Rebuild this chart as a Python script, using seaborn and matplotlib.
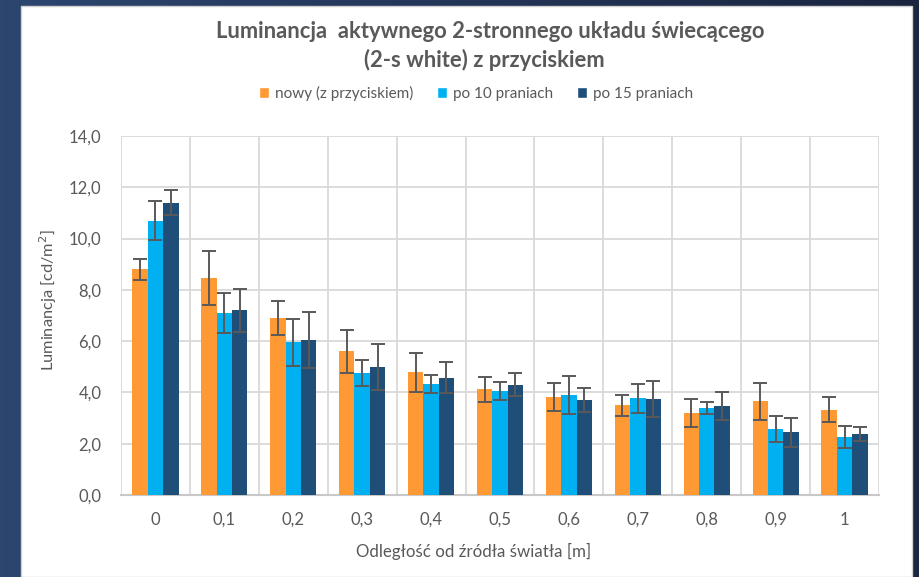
import matplotlib
matplotlib.use("Agg")
import matplotlib.pyplot as plt
import matplotlib.patches as mpatches
import numpy as np
import pandas as pd
import seaborn as sns
from matplotlib.ticker import FuncFormatter, MultipleLocator

# dane
odleglosci = ["0", "0,1", "0,2", "0,3", "0,4", "0,5", "0,6", "0,7", "0,8", "0,9", "1"]
serie = ["nowy (z przyciskiem)", "po 10 praniach", "po 15 praniach"]

nowy = [8.8, 8.45, 6.9, 5.6, 4.78, 4.12, 3.82, 3.5, 3.19, 3.65, 3.33]
po10 = [10.7, 7.1, 5.95, 4.75, 4.32, 4.05, 3.89, 3.77, 3.39, 2.57, 2.27]
po15 = [11.4, 7.2, 6.05, 5.0, 4.58, 4.3, 3.7, 3.73, 3.46, 2.45, 2.37]

err_nowy = [0.4, 1.05, 0.65, 0.85, 0.75, 0.5, 0.55, 0.4, 0.54, 0.72, 0.5]
err_po10 = [0.75, 0.77, 0.93, 0.5, 0.35, 0.36, 0.75, 0.56, 0.25, 0.5, 0.42]
err_po15 = [0.5, 0.85, 1.1, 0.9, 0.6, 0.45, 0.47, 0.7, 0.54, 0.57, 0.28]

kolory = ["#FF9933", "#00B0F0", "#1F4E79"]
szary = "#595959"

df = pd.DataFrame({
    "odl": odleglosci * 3,
    "seria": np.repeat(serie, len(odleglosci)),
    "lum": nowy + po10 + po15,
    "err": err_nowy + err_po10 + err_po15,
})

sns.set_theme(style="white")
plt.rcParams["font.family"] = ["Lato", "DejaVu Sans"]

fig = plt.figure(figsize=(9.19, 5.77), dpi=100)
fig.patch.set_facecolor("#223252")
# ciemne tło z lekkim gradientem (jaśniej z lewej)
grad = np.linspace(0, 1, 256).reshape(1, -1)
bg = fig.add_axes([0, 0, 1, 1], zorder=-2)
bg.imshow(grad, aspect="auto", extent=[0, 1, 0, 1],
          cmap=matplotlib.colors.LinearSegmentedColormap.from_list("tlo", ["#2d4670", "#1a2540"]))
bg.axis("off")
# białe tło panelu wykresu
fig.add_artist(mpatches.Rectangle((21 / 919, 0), (912 - 21) / 919, 1 - 6 / 577,
                                  transform=fig.transFigure, facecolor="white",
                                  edgecolor="#d0d0d0", lw=1, zorder=0))

ax = fig.add_axes([121 / 919, 1 - 495 / 577, (879 - 121) / 919, (495 - 136) / 577])
ax.set_facecolor("white")

sns.barplot(data=df, x="odl", y="lum", hue="seria", palette=kolory,
            order=odleglosci, hue_order=serie, errorbar=None,
            width=0.67, gap=0, saturation=1, linewidth=0, edgecolor="none",
            ax=ax, zorder=3)

# słupki błędów na środku każdego słupka
for patch, (_, row) in zip(ax.patches, df.iterrows()):
    xc = patch.get_x() + patch.get_width() / 2
    ax.errorbar(xc, patch.get_height(), yerr=row["err"], fmt="none",
                ecolor=szary, elinewidth=1.4, capsize=5, capthick=1.4, zorder=4)

ax.set_ylim(0, 14)
ax.set_xlim(-0.5, len(odleglosci) - 0.5)
ax.yaxis.set_major_locator(MultipleLocator(2))
ax.yaxis.set_major_formatter(FuncFormatter(lambda v, _: f"{v:.1f}".replace(".", ",")))
ax.set_xticks(np.arange(-0.5, len(odleglosci)), minor=True)
ax.grid(axis="y", which="major", color="#d9d9d9", lw=1.3, zorder=0)
ax.grid(axis="x", which="minor", color="#d9d9d9", lw=1.3, zorder=0)
ax.tick_params(axis="both", which="both", length=0, labelsize=12, colors=szary, pad=12)
ax.tick_params(axis="y", pad=14)
for s in ["top", "right", "left"]:
    ax.spines[s].set_visible(False)
ax.spines["bottom"].set_color("#c8c8c8")
ax.spines["bottom"].set_linewidth(1.5)
ax.set_xlabel("")
ax.set_ylabel("")
ax.legend_.remove()

fig.text(48 / 919, 1 - 300 / 577, "Luminancja [cd/m$^2$]", rotation=90,
         ha="center", va="center", fontsize=11.8, color=szary)
fig.text(474 / 919, 1 - 551 / 577, "Odległość od źródła światła [m]",
         ha="center", va="center", fontsize=12.2, color=szary)
fig.text(490 / 919, 1 - 32 / 577, "Luminancja  aktywnego 2-stronnego układu świecącego",
         ha="center", va="center", fontsize=15.8, fontweight="bold", color=szary)
fig.text(484 / 919, 1 - 60 / 577, "(2-s white) z przyciskiem",
         ha="center", va="center", fontsize=15.8, fontweight="bold", color=szary)

uchwyty = [mpatches.Patch(facecolor=k, label=s) for k, s in zip(kolory, serie)]
fig.legend(handles=uchwyty, loc="center", bbox_to_anchor=(476 / 919, 1 - 93 / 577),
           ncol=3, frameon=False, fontsize=11, labelcolor=szary,
           handlelength=0.7, handleheight=0.7, handletextpad=0.4, columnspacing=1.5)

fig.savefig("out.png", dpi=100, facecolor=fig.get_facecolor())
